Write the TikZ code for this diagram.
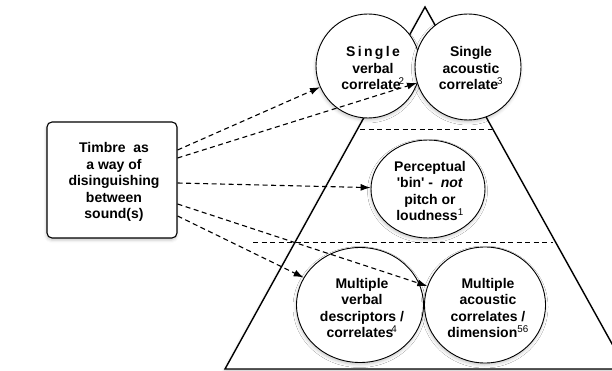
\documentclass[tikz,border=0pt]{standalone}
\usepackage{fontspec}
\setmainfont{Liberation Sans}[Ligatures=TeXOff]
\usetikzlibrary{shapes.geometric,arrows.meta,shadows.blur}
\newcommand\myup[1]{\textsuperscript{\mdseries #1}}
\tikzset{
  shd/.style={blur shadow={shadow xshift=-0.5pt, shadow yshift=-2pt, shadow blur radius=3pt, shadow opacity=22}},
  shp/.style={draw, fill=white, line width=0.9pt, inner sep=0pt, shd},
  circ/.style={shp, circle, minimum size=#1},
  ell/.style 2 args={shp, ellipse, minimum width=#1, minimum height=#2},
  txt/.style={font=\fontsize{14}{16.5}\selectfont\bfseries, align=center},
  arr/.style={line width=1.1pt, dash pattern=on 5pt off 3.5pt, -{Latex[length=10pt,width=7pt]}},
  sepline/.style={line width=0.9pt, dash pattern=on 5pt off 3.5pt},
}
\begin{document}
\begin{tikzpicture}[x=1pt,y=-1pt]
\useasboundingbox (0,0) rectangle (612,371);
\begin{scope}
  \clip (0,0) rectangle (612,371);
  \draw[line width=1.4pt, fill=white, shd] (425,7) -- (225,369) -- (626,369) -- cycle;
\end{scope}
\draw[sepline] (360,129) -- (492,129);
\draw[sepline] (253,242) -- (553,242);

\node[draw, fill=white, rounded corners=5pt, line width=1.1pt, minimum width=130pt, minimum height=116pt, shd] (box) at (112,180) {};
\node[txt] (boxt) at (114,182) {Timbre\ \ as\\a way of\\disinguishing\\between\\sound(s)};

\node[circ=104pt] (sv) at (368,66) {};
\node[txt] (svt) at (373,68) {{\addfontfeature{LetterSpace=17}Single}\\verbal\\correlate\kern-2pt\myup{2}};
\node[circ=106pt] (sa) at (468,67) {};
\node[txt] (sat) at (471,68) {Single\\acoustic\\correlate\kern-1pt\myup{3}};

\node[ell={114pt}{98pt}] (pc) at (428,189) {};
\node[txt] (pct) at (430,191) {Perceptual\\'bin' -\ \ \textit{not}\\pitch or\\loudness\myup{1}};

\node[ell={127pt}{115pt}] (mv) at (360,305) {};
\node[txt] (mvt) at (362,308) {Multiple\\verbal\\descriptors /\\correlates\kern-2pt\myup{4}};
\node[ell={121pt}{116pt}] (ma) at (485,305) {};
\node[txt] (mat) at (488,308) {Multiple\\acoustic\\correlates /\\dimension\myup{56}};

\coordinate (s1) at (box.east |- 0,150);
\coordinate (s2) at (box.east |- 0,158);
\coordinate (s3) at (box.east |- 0,183);
\coordinate (s4) at (box.east |- 0,204);
\coordinate (s5) at (box.east |- 0,216);
\draw[arr] (s1) -- (sv);
\draw[arr] (s2) -- (sa);
\draw[arr] (s3) -- (pc);
\draw[arr] (s4) -- (ma);
\draw[arr] (s5) -- (mv);
\end{tikzpicture}
\end{document}
